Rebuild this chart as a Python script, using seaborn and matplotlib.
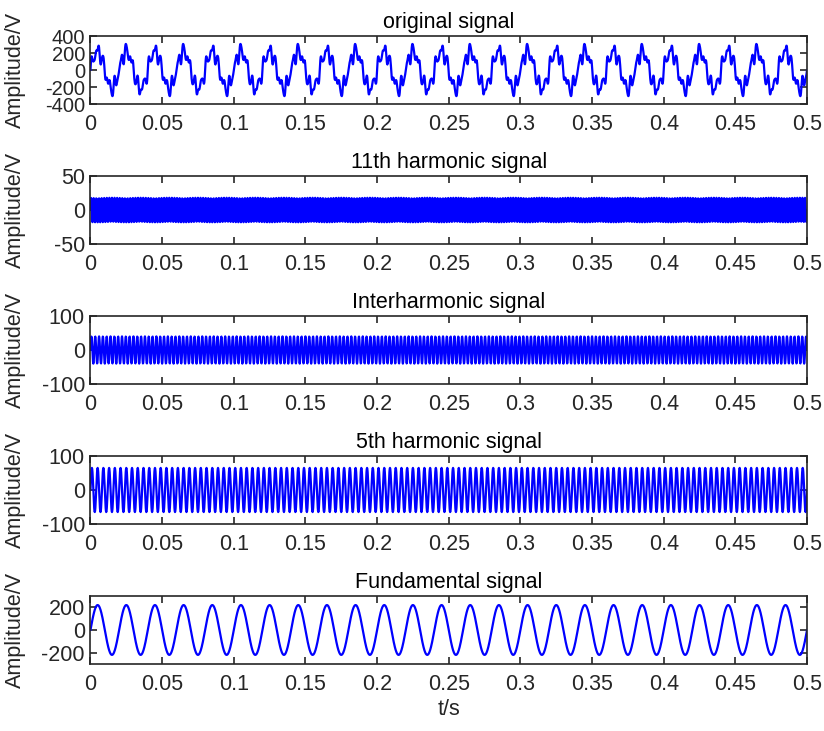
import numpy as np
import pandas as pd
import seaborn as sns
import matplotlib.pyplot as plt
from matplotlib.ticker import FuncFormatter

# signal components (amplitude in V, frequency in Hz)
names = ['Fundamental', '5th harmonic', 'Interharmonic', '11th harmonic']
amps = [220, 65, 40, 18]
freqs = [50, 250, 375, 550]
fs = 5000
t_end = 0.5

titles = ['original signal', '11th harmonic signal', 'Interharmonic signal',
          '5th harmonic signal', 'Fundamental signal']
ylims = [(-400, 400), (-50, 50), (-100, 100), (-100, 100), (-300, 300)]
yticks = [[-400, -200, 0, 200, 400], [-50, 0, 50], [-100, 0, 100],
          [-100, 0, 100], [-200, 0, 200]]
xticks = [0, 0.05, 0.1, 0.15, 0.2, 0.25, 0.3, 0.35, 0.4, 0.45, 0.5]

t = np.arange(0, t_end + 1 / fs, 1 / fs)
comp = {n: a * np.sin(2 * np.pi * f * t) for n, a, f in zip(names, amps, freqs)}
comp['original'] = sum(comp[n] for n in names)
order = ['original', '11th harmonic', 'Interharmonic', '5th harmonic', 'Fundamental']

sns.set_style('ticks')
plt.rcParams['font.family'] = ['Liberation Sans', 'DejaVu Sans']
plt.rcParams['axes.unicode_minus'] = False
plt.rcParams['xtick.direction'] = 'in'
plt.rcParams['ytick.direction'] = 'in'

fs_txt = 15.5
fig = plt.figure(figsize=(8.24, 7.31), dpi=100)
bottoms = [0.8577, 0.6662, 0.4747, 0.2832, 0.0917]
for i, key in enumerate(order):
    ax = fig.add_axes([0.1098, bottoms[i], 0.8696, 0.093])
    df = pd.DataFrame({'t': t, 'v': comp[key]})
    sns.lineplot(data=df, x='t', y='v', ax=ax, color='#0000ff', lw=1.6,
                 estimator=None, sort=False)
    ax.set_xlim(0, 0.5)
    ax.set_ylim(*ylims[i])
    ax.set_xticks(xticks)
    ax.set_yticks(yticks[i])
    ax.xaxis.set_major_formatter(FuncFormatter(lambda v, p: ('%g' % round(v, 3))))
    ax.tick_params(top=True, right=True, labelsize=fs_txt, colors='#262626',
                   length=5, width=1.2)
    ax.tick_params(axis='x', pad=7)
    ax.tick_params(axis='y', pad=4, labelsize=(14.5 if i == 0 else fs_txt))
    for s in ax.spines.values():
        s.set_color('#262626')
        s.set_linewidth(1.2)
    ax.set_title(titles[i], fontsize=fs_txt, pad=6, color='black')
    ax.set_ylabel('Amplitude/V', fontsize=fs_txt, color='#262626')
    ax.yaxis.set_label_coords(-0.09, 0.5)
    ax.set_xlabel('t/s' if i == 4 else '', fontsize=fs_txt, color='#262626',
                  labelpad=3)

fig.savefig('out.png', dpi=100)
